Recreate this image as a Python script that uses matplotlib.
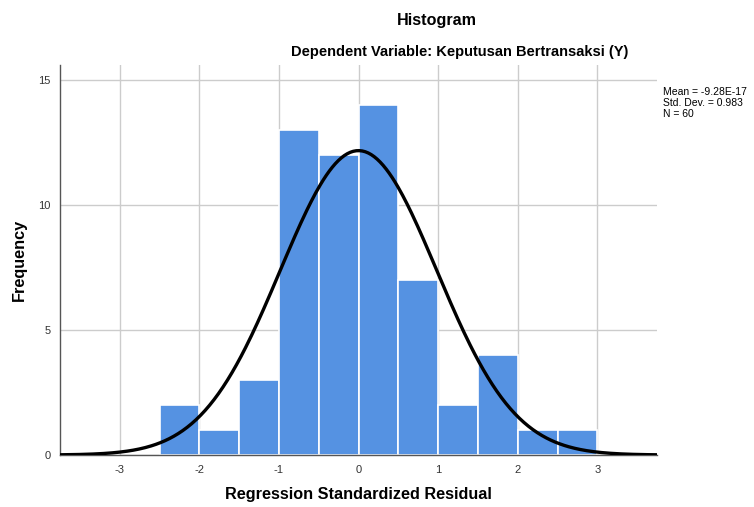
import matplotlib.pyplot as plt
import numpy as np

plt.rcParams['font.family'] = ['Liberation Sans', 'DejaVu Sans']
plt.rcParams['axes.unicode_minus'] = False

# histogram bins (lower edges) and counts
bin_left = [-2.5, -2.0, -1.5, -1.0, -0.5, 0.0, 0.5, 1.0, 1.5, 2.0, 2.5]
counts = [2, 1, 3, 13, 12, 14, 7, 2, 4, 1, 1]
bin_width = 0.5

mean = -9.28e-17
std = 0.983
n = 60

x_ticks = [-3, -2, -1, 0, 1, 2, 3]
y_ticks = [0, 5, 10, 15]

fig = plt.figure(figsize=(7.54, 5.07), dpi=100)
ax = fig.add_axes([60 / 754, 1 - 455 / 507, 597 / 754, 390 / 507])

# bars
ax.bar(bin_left, counts, width=bin_width, align="edge", color="#5592e2",
       edgecolor="white", linewidth=1.2, zorder=2)

# normal curve
xs = np.linspace(-3.75, 3.75, 400)
ys = n * bin_width / (std * np.sqrt(2 * np.pi)) * np.exp(-0.5 * ((xs - mean) / std) ** 2)
ax.plot(xs, ys, color="black", linewidth=2.4, zorder=3)

ax.set_xlim(-3.75, 3.75)
ax.set_ylim(0, 15.6)
ax.set_xticks(x_ticks)
ax.set_yticks(y_ticks)
ax.grid(True, color="#cccccc", linewidth=1.0, zorder=0)
ax.set_axisbelow(True)
ax.tick_params(length=0, labelsize=8, colors="#333333", pad=7)

for side in ["top", "right"]:
    ax.spines[side].set_visible(False)
for side in ["left", "bottom"]:
    ax.spines[side].set_color("#555555")
    ax.spines[side].set_linewidth(1.0)

ax.set_xlabel("Regression Standardized Residual", fontsize=11.7, fontweight="bold", va="center")
ax.set_ylabel("Frequency", fontsize=11.7, fontweight="bold", va="center")
ax.xaxis.set_label_coords(0.5, -40 / 390)
ax.yaxis.set_label_coords(-41 / 597, 0.5)

fig.text(437 / 754, 1 - 20 / 507, "Histogram", fontsize=11.6, fontweight="bold",
         ha="center", va="center")
fig.text(460 / 754, 1 - 52 / 507, "Dependent Variable: Keputusan Bertransaksi (Y)",
         fontsize=10.5, fontweight="bold", ha="center", va="center")

fig.text(663 / 754, 1 - 87 / 507,
         "Mean = -9.28E-17\nStd. Dev. = 0.983\nN = 60",
         fontsize=7.5, ha="left", va="top", linespacing=1.1)

plt.savefig("out.png", dpi=100)
